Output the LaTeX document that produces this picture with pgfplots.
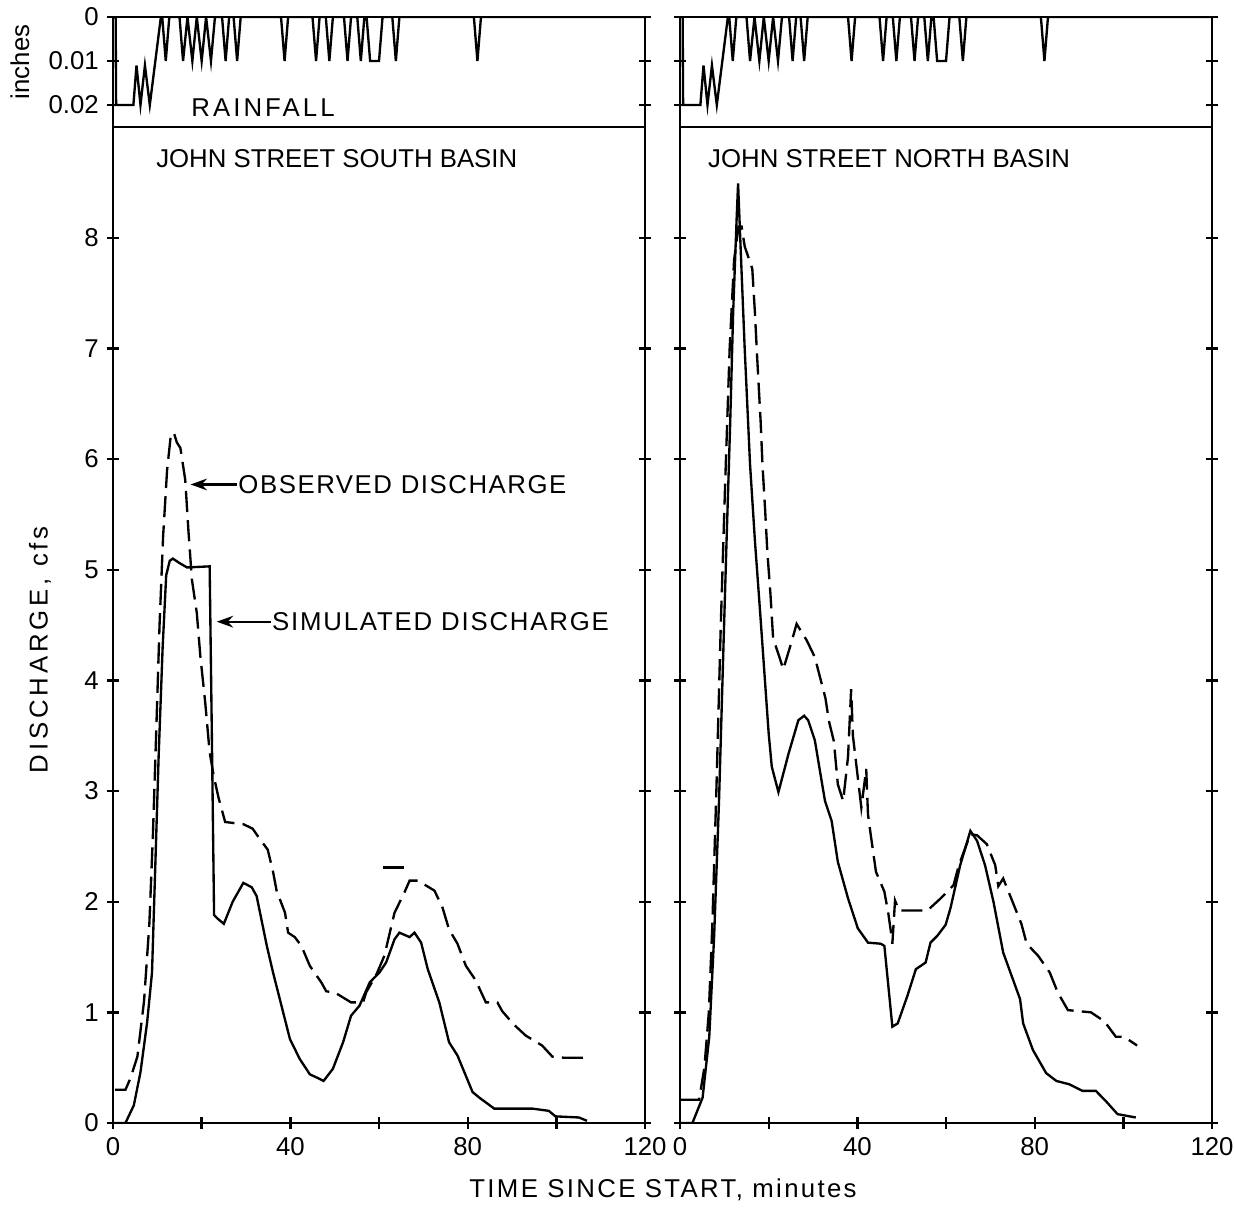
\documentclass[border=0pt]{standalone}
\usepackage{fontspec}
\setmainfont{Liberation Sans}
\usepackage{pgfplots}
\usepackage{pgfplotstable}
\pgfplotsset{compat=1.18}
\usetikzlibrary{arrows.meta}

% rainfall, inches per minute (same storm on both basins)
\pgfplotstableread{
t r
0 0
0.6 0
0.7 0.02
4.6 0.02
5.3 0.011
6.2 0.02
7.2 0.011
8.3 0.02
10.8 0
11.1 0
11.9 0.01
12.7 0
15.0 0
15.8 0.01
16.8 0
17.9 0.01
18.9 0
20.0 0.01
21.0 0
22.1 0.01
23.0 0
24.6 0
25.4 0.01
26.2 0
27.2 0
28.0 0.01
28.8 0
37.9 0
38.7 0.01
39.5 0
45.0 0
45.8 0.01
46.6 0
48.0 0
48.8 0.01
49.6 0
52.1 0
52.9 0.01
53.7 0
55.1 0
55.9 0.01
56.7 0
57.2 0
58.0 0.01
60.0 0.01
60.8 0
63.0 0
63.8 0.01
64.6 0
81.4 0
82.2 0.01
83.0 0
120 0
}\rain

\pgfplotstableread{
t q
0 0
2.8 0
4.7 0.16
6.2 0.46
7.7 0.91
8.8 1.36
9.5 2.27
10.3 3.32
11.2 4.3
12.0 4.95
12.8 5.08
13.5 5.1
15.0 5.06
16.7 5.02
21.8 5.03
22.3 3.5
22.8 1.88
23.5 1.85
25.0 1.8
27.0 2.0
29.4 2.17
31.3 2.13
32.4 2.05
34.7 1.6
36.1 1.36
38.0 1.06
39.9 0.76
42.1 0.58
44.4 0.44
46.0 0.41
47.5 0.38
49.6 0.49
51.9 0.73
53.7 0.97
55.6 1.06
57.9 1.27
60.1 1.36
61.6 1.45
63.5 1.66
64.6 1.72
66.9 1.68
68.0 1.72
69.5 1.63
71.0 1.39
73.6 1.09
75.8 0.73
77.7 0.61
81.1 0.28
82.6 0.23
86.0 0.13
90.8 0.13
94.6 0.13
98.3 0.11
99.8 0.06
105.1 0.05
106.9 0.02
}\southsim

\pgfplotstableread{
t q
0.5 0.3
2.8 0.3
3.9 0.4
5.5 0.6
7.0 1.1
8.2 1.8
9.0 2.6
9.8 3.6
10.5 4.5
11.3 5.3
12.2 5.9
13.0 6.2
13.7 6.24
14.4 6.15
15.2 6.1
16.3 5.81
17.0 5.36
17.8 4.91
18.9 4.61
19.7 4.22
20.8 3.8
21.8 3.35
22.7 3.14
23.8 2.94
25.3 2.72
29.4 2.70
31.5 2.66
32.7 2.59
34.9 2.47
36.1 2.27
36.9 2.1
38.8 1.9
39.5 1.72
41.0 1.68
42.5 1.6
44.4 1.42
47.0 1.27
48.1 1.19
50.0 1.18
53.7 1.09
56.4 1.09
57.1 1.18
59.5 1.35
61.2 1.51
63.5 1.9
65.7 2.08
66.9 2.19
68.8 2.19
72.5 2.1
74.3 1.95
75.8 1.75
77.7 1.62
79.6 1.42
81.8 1.29
84.1 1.09
86.7 1.09
87.8 1.01
90.4 0.89
93.1 0.79
96.8 0.70
99.1 0.60
101.7 0.59
106.6 0.59
}\southobs

\pgfplotstableread{
t q
0 0
2.8 0
5.1 0.23
6.6 0.78
7.7 1.69
8.8 2.91
9.9 4.44
10.5 5.26
11.3 6.3
12.0 7.34
12.8 8.2
13.1 8.49
13.9 7.68
14.6 6.99
15.8 5.95
16.9 5.26
18.1 4.6
20.0 3.52
20.7 3.22
22.2 2.99
24.5 3.34
26.7 3.64
28.0 3.68
28.9 3.64
30.4 3.46
32.7 2.91
34.2 2.73
35.6 2.36
37.9 2.03
40.1 1.76
42.4 1.63
45.3 1.62
46.1 1.60
47.9 0.87
49.1 0.90
51.3 1.15
53.2 1.39
55.4 1.45
56.5 1.63
58.0 1.69
59.9 1.79
61.0 1.94
63.2 2.33
65.5 2.64
67.0 2.55
68.8 2.33
70.7 2.0
72.9 1.54
76.7 1.12
77.4 0.90
79.6 0.66
82.6 0.45
84.9 0.38
87.8 0.35
90.8 0.29
93.8 0.29
96.0 0.20
98.7 0.08
102.8 0.05
}\northsim

\pgfplotstableread{
t q
0 0.21
4.3 0.21
5.5 0.5
6.5 1.0
7.3 1.8
8.2 3.0
9.2 4.5
10.2 5.8
11.2 7.0
12.2 7.8
13.2 8.1
13.9 8.1
14.6 7.92
16.3 7.72
16.9 7.32
17.4 6.92
18.2 6.33
18.6 5.95
19.2 5.54
19.7 5.16
20.4 4.78
21.0 4.38
22.5 4.2
23.3 4.1
25.1 4.34
26.3 4.51
28.6 4.36
30.4 4.21
31.7 4.01
32.8 3.84
33.6 3.63
34.7 3.45
35.6 3.06
36.8 2.91
37.9 3.31
38.6 3.92
39.0 3.5
40.9 2.85
42.0 3.2
42.4 2.79
43.0 2.61
44.2 2.27
46.1 2.09
47.0 1.89
47.6 1.72
47.9 1.62
48.5 2.01
49.4 1.92
50.6 1.92
55.8 1.92
58.8 2.03
61.7 2.15
62.9 2.33
65.5 2.61
67.0 2.6
69.2 2.52
71.1 2.33
71.8 2.14
72.9 2.21
75.2 1.98
77.0 1.8
78.2 1.62
80.8 1.51
83.4 1.36
85.2 1.18
87.5 1.02
92.7 1.0
95.7 0.92
98.3 0.78
100.1 0.78
103.1 0.70
}\northobs

\pgfplotsset{
  panel/.style={
    scale only axis, width=7.98cm, xmin=0, xmax=120,
    axis line style={line width=1.1pt},
    every tick/.style={black, line width=1pt},
    major tick length=0.18cm, tick align=center,
    font=\fontsize{11}{13}\selectfont,
    /pgf/number format/assume math mode=true,
  },
  rainax/.style={panel, height=1.65cm, ymin=0, ymax=0.025, y dir=reverse,
    xtick=\empty, ytick={0,0.01,0.02}, scaled y ticks=false},
  mainax/.style={panel, height=14.94cm, ymin=0, ymax=9,
    xtick={0,20,...,120}, xticklabels={0,,40,,80,,120}, xtick pos=left,
    ytick={0,...,8}},
  sim/.style={black, line width=1pt},
  obs/.style={black, line width=1pt, dash pattern=on 9pt off 3.5pt},
}
\newcommand{\spaced}[1]{\addfontfeatures{LetterSpace=#1}}

\begin{document}
\begin{tikzpicture}
\path[use as bounding box] (-1.695cm,-1.275cm) rectangle (16.815cm,16.845cm);

% left panel: south basin
\begin{axis}[mainax, at={(0cm,0cm)}, anchor=south west]
\addplot[sim] table[x=t, y=q] {\southsim};
\addplot[obs] table[x=t, y=q] {\southobs};
\addplot[black, line width=1pt] coordinates {(61,2.31) (65.7,2.31)};
\node[anchor=west] at (axis cs:7.9,8.71) {JOHN STREET SOUTH BASIN};
\draw[line width=0.9pt, -{Stealth[length=7pt,width=5pt]}] (axis cs:28.0,5.77) -- (axis cs:17.5,5.77);
\node[anchor=west, inner sep=0pt] at (axis cs:28.2,5.77) {\spaced{6}OBSERVED DISCHARGE};
\draw[line width=0.9pt, -{Stealth[length=7pt,width=5pt]}] (axis cs:35.6,4.53) -- (axis cs:23.4,4.53);
\node[anchor=west, inner sep=0pt] at (axis cs:35.8,4.53) {\spaced{7}SIMULATED DISCHARGE};
\end{axis}
\begin{axis}[rainax, at={(0cm,14.94cm)}, anchor=south west,
  yticklabels={0,0.01,0.02}]
\addplot[black, line width=1pt] table[x=t, y=r] {\rain};
\node[anchor=west] at (axis cs:15.8,0.0205) {\spaced{12}RAINFALL};
\end{axis}

% right panel: north basin
\begin{axis}[mainax, at={(8.505cm,0cm)}, anchor=south west, yticklabels={}]
\addplot[sim] table[x=t, y=q] {\northsim};
\addplot[obs] table[x=t, y=q] {\northobs};
\node[anchor=west] at (axis cs:4.5,8.71) {JOHN STREET NORTH BASIN};
\end{axis}
\begin{axis}[rainax, at={(8.505cm,14.94cm)}, anchor=south west, yticklabels={}]
\addplot[black, line width=1pt] table[x=t, y=r] {\rain};
\end{axis}

\node[font=\fontsize{11}{13}\selectfont] at (8.25cm,-1.005cm) {\spaced{9}TIME SINCE START, minutes};
\node[font=\fontsize{11}{13}\selectfont, rotate=90] at (-1.095cm,7.1cm) {\spaced{15}DISCHARGE, cfs};
\node[font=\fontsize{11}{13}\selectfont, rotate=90] at (-1.395cm,15.915cm) {inches};
\end{tikzpicture}
\end{document}
